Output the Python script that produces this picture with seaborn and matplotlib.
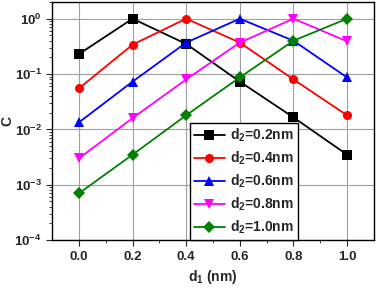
import matplotlib
matplotlib.use('Agg')
import matplotlib.pyplot as plt
import pandas as pd
import seaborn as sns

d1 = [0.0, 0.2, 0.4, 0.6, 0.8, 1.0]
c_02 = [0.23, 1.0, 0.35, 0.073, 0.0165, 0.0035]
c_04 = [0.055, 0.34, 1.0, 0.37, 0.08, 0.018]
c_06 = [0.0134, 0.073, 0.37, 1.0, 0.4, 0.087]
c_08 = [0.003, 0.016, 0.08, 0.37, 1.0, 0.39]
c_10 = [0.0007, 0.0035, 0.018, 0.087, 0.4, 1.0]

labels = ['d$_2$=0.2nm', 'd$_2$=0.4nm', 'd$_2$=0.6nm', 'd$_2$=0.8nm', 'd$_2$=1.0nm']
colors = ['black', 'red', 'blue', 'magenta', 'green']
markers = ['s', 'o', '^', 'v', 'D']

rows = []
for lab, vals in zip(labels, [c_02, c_04, c_06, c_08, c_10]):
    for x, y in zip(d1, vals):
        rows.append({'d1': x, 'C': y, 'series': lab})
df = pd.DataFrame(rows)

sns.set_style('ticks')
plt.rcParams['font.family'] = ['Liberation Sans', 'DejaVu Sans']
plt.rcParams['font.weight'] = 'bold'
plt.rcParams['mathtext.default'] = 'regular'

fig = plt.figure(figsize=(3.78, 2.90), dpi=100)
ax = fig.add_axes([0.138, 0.172, 0.851, 0.821])

sns.lineplot(data=df, x='d1', y='C', hue='series', style='series',
             palette=dict(zip(labels, colors)), markers=dict(zip(labels, markers)),
             dashes=False, markersize=6.5, markeredgewidth=0, linewidth=1.3, ax=ax)

ax.set_yscale('log')
ax.set_ylim(1e-4, 2)
ax.set_xlim(-0.1, 1.1)
ax.set_xticks(d1)
ax.set_xticks([0.1, 0.3, 0.5, 0.7, 0.9], minor=True)
ax.set_xticklabels(['0.0', '0.2', '0.4', '0.6', '0.8', '1.0'])
ax.grid(True, which='major', color='#a0a0a0', linewidth=0.8)
ax.set_axisbelow(True)
for s in ax.spines.values():
    s.set_linewidth(1.0)
    s.set_color('black')
ax.tick_params(which='major', direction='out', length=4, labelsize=9.5)
ax.tick_params(which='minor', direction='out', length=2)
ax.set_xlabel('d$_1$ (nm)', fontsize=10, fontweight='bold')
ax.set_ylabel('C', fontsize=10, fontweight='bold')
ax.yaxis.set_label_coords(-0.118, 0.5)

leg = ax.legend(loc='lower left', bbox_to_anchor=(0.428, 0.0), fontsize=10,
                frameon=True, fancybox=False, edgecolor='black', framealpha=1,
                handlelength=2.2, handletextpad=0.4, borderpad=0.3, labelspacing=0.4,
                borderaxespad=0)
leg.get_frame().set_linewidth(1.0)

fig.savefig('out.png', dpi=100)
